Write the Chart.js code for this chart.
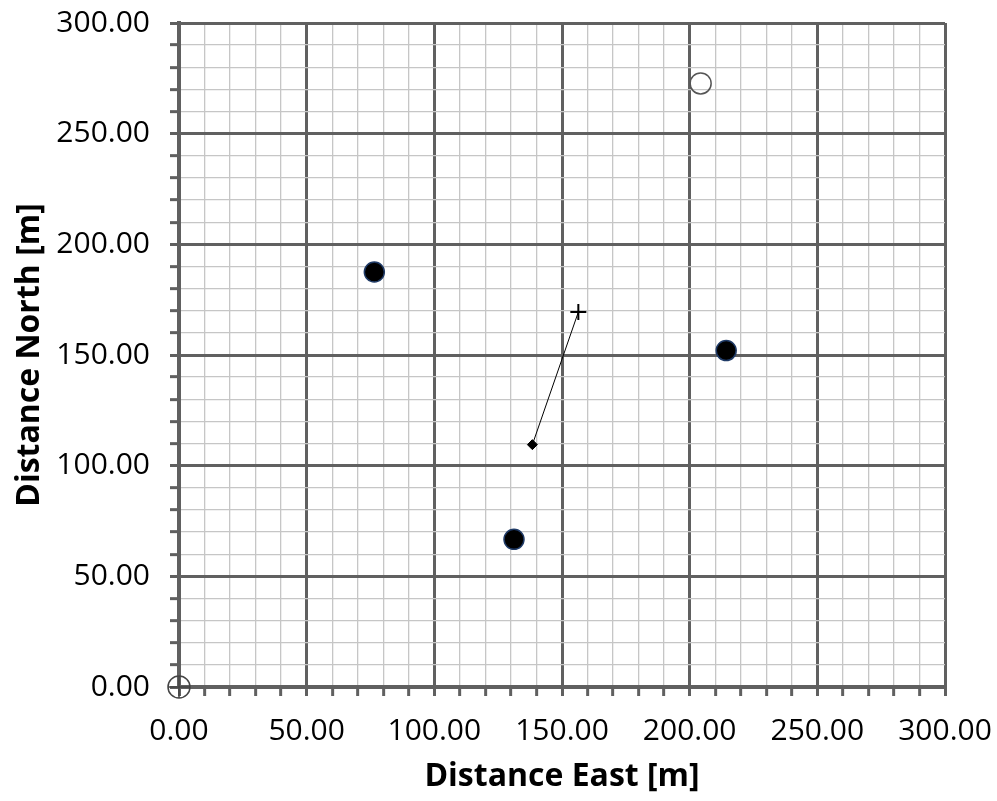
<!DOCTYPE html>
<html>
<head>
<meta charset="utf-8">
<script src="https://cdn.jsdelivr.net/npm/chart.js@4"></script>
<style>
  html, body { margin: 0; background: #fff; }
</style>
</head>
<body>
<canvas id="plan" width="997" height="801"></canvas>
<script>
// surveyed positions, metres east / north of the origin
const wellEast = [76.5, 131.2, 214.3];
const wellNorth = [187.5, 66.7, 152.0];
const openEast = [204.3];
const openNorth = [272.7];
const originEast = [0];
const originNorth = [0];
// offset vector: start (diamond) -> end (plus)
const vectorEast = [138.4, 156.4];
const vectorNorth = [109.5, 169.4];

const axisMin = 0, axisMax = 300, minorStep = 10, majorStep = 50;

function toPoints(xs, ys) {
    return xs.map((x, i) => ({ x: x, y: ys[i] }));
}

const darkGrey = '#606060';
const lightGrey = '#c6c6c6';
const tickFont = { family: 'Open Sans', size: 30 };
const titleFont = { family: 'Open Sans', size: 32, weight: 'bold' };

function gridColor(ctx) {
    return ctx.tick && ctx.tick.value % majorStep === 0 ? darkGrey : lightGrey;
}
function gridWidth(ctx) {
    return ctx.tick && ctx.tick.value % majorStep === 0 ? 3 : 1.3;
}
function label(v) {
    return v % majorStep === 0 ? v.toFixed(2) : '';
}

function axis(title, extra) {
    return Object.assign({
        type: 'linear',
        min: axisMin,
        max: axisMax,
        grid: {
            color: gridColor,
            lineWidth: gridWidth,
            tickColor: darkGrey,
            tickWidth: 3,
            tickLength: 9
        },
        border: { color: darkGrey, width: 4 },
        ticks: {
            stepSize: minorStep,
            autoSkip: false,
            maxRotation: 0,
            color: '#000',
            font: tickFont,
            callback: label
        },
        title: {
            display: true,
            text: title,
            color: '#000',
            font: titleFont
        }
    }, extra);
}

// pin the plot area: labels may spill into the layout padding
const xAxis = axis('Distance East [m]', {
    afterFit: scale => {
        scale.height = 801 - 687;
        scale.paddingLeft = 0;
        scale.paddingRight = 0;
    }
});
xAxis.ticks.padding = 17;
xAxis.title.padding = { top: 0, bottom: 5 };

const yAxis = axis('Distance North [m]', {
    afterFit: scale => {
        scale.width = 179;
        scale.paddingTop = 0;
        scale.paddingBottom = 0;
    }
});
yAxis.ticks.padding = 20;
yAxis.title.padding = { top: 11, bottom: 0 };

new Chart(document.getElementById('plan').getContext('2d'), {
    type: 'scatter',
    data: {
        datasets: [{
            data: toPoints(vectorEast, vectorNorth),
            showLine: true,
            borderColor: '#000',
            borderWidth: 1,
            pointRadius: 0
        }, {
            data: toPoints(vectorEast.slice(0, 1), vectorNorth.slice(0, 1)),
            pointStyle: 'rectRot',
            pointRadius: 5,
            backgroundColor: '#000',
            borderColor: '#000',
            borderWidth: 1
        }, {
            data: toPoints(vectorEast.slice(1), vectorNorth.slice(1)),
            pointStyle: 'cross',
            pointRadius: 8,
            borderColor: '#000',
            borderWidth: 2
        }, {
            data: toPoints(wellEast, wellNorth),
            pointStyle: 'circle',
            pointRadius: 10,
            backgroundColor: '#000',
            borderColor: '#1f3a66',
            borderWidth: 1.5
        }, {
            data: toPoints(openEast, openNorth),
            pointStyle: 'circle',
            pointRadius: 10.5,
            backgroundColor: 'rgba(255,255,255,0)',
            borderColor: '#555',
            borderWidth: 1.5
        }, {
            data: toPoints(originEast, originNorth),
            pointStyle: 'circle',
            pointRadius: 11,
            backgroundColor: 'rgba(255,255,255,0)',
            borderColor: '#444',
            borderWidth: 1.5,
            clip: false
        }, {
            data: toPoints(originEast, originNorth),
            pointStyle: 'cross',
            pointRadius: 11,
            borderColor: '#444',
            borderWidth: 1.5,
            clip: false
        }]
    },
    options: {
        responsive: false,
        animation: false,
        layout: { padding: { left: 0, right: 52, top: 23, bottom: 0 } },
        plugins: {
            legend: { display: false },
            tooltip: { enabled: false }
        },
        scales: { x: xAxis, y: yAxis }
    }
});
</script>
</body>
</html>
